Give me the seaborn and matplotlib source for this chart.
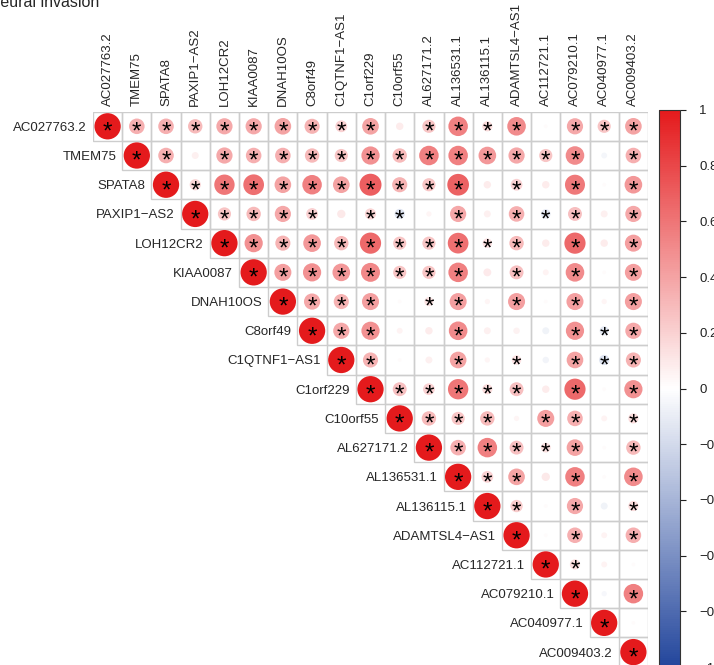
import matplotlib
matplotlib.use("Agg")
import numpy as np
import pandas as pd
import seaborn as sns
import matplotlib.pyplot as plt
from matplotlib import transforms
from matplotlib.colors import LinearSegmentedColormap, Normalize
from matplotlib.cm import ScalarMappable
from matplotlib.patches import Rectangle
from matplotlib.textpath import TextPath
from matplotlib.font_manager import FontProperties

sns.set_style("white")
plt.rcParams["font.family"] = ["Liberation Sans", "DejaVu Sans"]

genes = ["AC027763.2", "TMEM75", "SPATA8", "PAXIP1\u2212AS2", "LOH12CR2", "KIAA0087",
         "DNAH10OS", "C8orf49", "C1QTNF1\u2212AS1", "C1orf229", "C10orf55", "AL627171.2",
         "AL136531.1", "AL136115.1", "ADAMTSL4\u2212AS1", "AC112721.1", "AC079210.1",
         "AC040977.1", "AC009403.2"]

# upper-triangle correlations, row i holds columns i+1 .. n-1
corr_rows = [
    [0.35, 0.35, 0.30, 0.38, 0.38, 0.40, 0.33, 0.20, 0.40, 0.08, 0.25, 0.55, 0.15, 0.50, 0.02, 0.38, 0.25, 0.40],
    [0.35, 0.07, 0.38, 0.35, 0.35, 0.30, 0.25, 0.48, 0.30, 0.55, 0.55, 0.45, 0.38, 0.25, 0.50, -0.05, 0.35],
    [0.18, 0.60, 0.62, 0.40, 0.55, 0.40, 0.70, 0.33, 0.25, 0.68, 0.08, 0.20, 0.08, 0.58, 0.02, 0.45],
    [0.25, 0.30, 0.38, 0.20, 0.10, 0.18, -0.15, 0.04, 0.38, 0.07, 0.35, -0.13, 0.28, 0.07, 0.38],
    [0.48, 0.33, 0.45, 0.30, 0.65, 0.25, 0.25, 0.62, 0.13, 0.30, 0.08, 0.65, 0.08, 0.42],
    [0.42, 0.48, 0.45, 0.52, 0.25, 0.25, 0.55, 0.09, 0.28, 0.05, 0.50, 0.02, 0.42],
    [0.38, 0.33, 0.42, 0.02, 0.12, 0.42, 0.04, 0.42, 0.02, 0.42, 0.04, 0.42],
    [0.38, 0.48, 0.05, 0.08, 0.50, 0.07, 0.06, -0.07, 0.48, -0.12, 0.38],
    [0.33, 0.02, 0.07, 0.40, 0.04, 0.13, -0.06, 0.40, -0.15, 0.33],
    [0.28, 0.20, 0.60, 0.15, 0.28, 0.08, 0.65, 0.02, 0.48],
    [0.30, 0.25, 0.30, 0.04, 0.42, 0.35, 0.05, 0.15],
    [0.35, 0.55, 0.28, 0.14, 0.40, 0.02, 0.30],
    [0.20, 0.40, 0.10, 0.55, 0.02, 0.50],
    [0.22, 0.02, 0.38, -0.07, 0.15],
    [0.02, 0.35, 0.05, 0.35],
    [0.15, 0.05, 0.02],
    [-0.04, 0.55],
    [0.02],
]

# significance flags ('*' = p < 0.05) for the same cells
sig_rows = [
    "*********.****.***",
    "*.*************.*",
    "**********.*.*.*",
    "****.**.*.***.*",
    "**********.*.*",
    "*******.*.*.*",
    "***.**.*.*.*",
    "**..*...***",
    "*..*.*.***",
    "*****.*.*",
    "***.**.*",
    "*****.*",
    "**.*.*",
    "*.*.*",
    ".*.*",
    "*..",
    ".*",
    ".",
]

title = "Perineural invasion"
cbar_ticks = [-1, -0.8, -0.6, -0.4, -0.2, 0, 0.2, 0.4, 0.6, 0.8, 1]

n = len(genes)
records = []
for i in range(n):
    records.append(dict(row=i, col=i, r=1.0, sig=True))
    for k, (r, s) in enumerate(zip(corr_rows[i] if i < len(corr_rows) else [],
                                    sig_rows[i] if i < len(sig_rows) else "")):
        records.append(dict(row=i, col=i + 1 + k, r=r, sig=(s == "*")))
df = pd.DataFrame(records)
df["absr"] = df["r"].abs()

cmap = LinearSegmentedColormap.from_list("bwr_corr", ["#23469C", "#FFFFFF", "#E41A1C"], N=256)

W, H = 714, 665
fig = plt.figure(figsize=(W / 100, H / 100), dpi=100)
grid_left, grid_top, cell = 93, 111.7, 555 / n
ax = fig.add_axes([grid_left / W, 1 - (grid_top + n * cell) / H, n * cell / W, n * cell / H])

# cell borders of the upper triangle
for _, rec in df.iterrows():
    ax.add_patch(Rectangle((rec.col - 0.5, rec.row - 0.5), 1, 1, fill=False,
                           edgecolor="#CDCDCD", linewidth=1.0, zorder=1))

cell_pt = cell * 72 / 100
smax = (0.9 * cell_pt) ** 2
sns.scatterplot(data=df, x="col", y="row", hue="r", size="absr", palette=cmap,
                hue_norm=(-1, 1), sizes=(0, smax), size_norm=(0, 1),
                linewidth=0, legend=False, ax=ax, zorder=2)

ax.set_xlim(-0.5, n - 0.5)
ax.set_ylim(n - 0.5, -0.5)
ax.axis("off")

# significance asterisks: size the glyph by its ink and centre the ink in the cell
star_prop = FontProperties(family="Liberation Sans")
ink = TextPath((0, 0), "*", size=1, prop=star_prop).get_extents()
star_px = 8.5
star_fs = (star_px * 72 / 100) / (ink.y1 - ink.y0)
star_tr = transforms.offset_copy(ax.transData, fig=fig,
                                 x=-(ink.x0 + ink.x1) / 2 * star_fs,
                                 y=-(ink.y0 + ink.y1) / 2 * star_fs, units="points")
for _, rec in df[df["sig"]].iterrows():
    ax.text(rec.col, rec.row, "*", transform=star_tr, ha="left", va="baseline",
            fontsize=star_fs, fontproperties=None, family="Liberation Sans",
            color="black", zorder=3)

# row labels beside the diagonal, column labels along the top
lab_fs = 9.5
row_tr = transforms.offset_copy(ax.transData, fig=fig, x=-6, y=0, units="dots")
col_tr = transforms.offset_copy(ax.transData, fig=fig, x=0, y=6, units="dots")
for i, g in enumerate(genes):
    ax.text(i - 0.5, i, g, transform=row_tr, ha="right", va="center_baseline",
            fontsize=lab_fs, clip_on=False)
    ax.text(i, -0.5, g, transform=col_tr, ha="center", va="bottom", rotation=90,
            fontsize=lab_fs, clip_on=False)

# colour legend
cb_top, cb_bot = 110, 667
cax = fig.add_axes([659 / W, 1 - cb_bot / H, 21 / W, (cb_bot - cb_top) / H])
cb = fig.colorbar(ScalarMappable(norm=Normalize(-1, 1), cmap=cmap), cax=cax, ticks=cbar_ticks)
cb.ax.set_yticklabels([("%g" % t).replace("-", "\u2212") for t in cbar_ticks])
cb.ax.tick_params(length=4, width=0.8, pad=10, labelsize=lab_fs, colors="#222222")
cb.outline.set_linewidth(0.8)
cb.outline.set_edgecolor("#333333")

fig.text(-37 / W, 1 - 7 / H, title, fontsize=11.5, ha="left", va="baseline")

fig.savefig("out.png", dpi=100)
